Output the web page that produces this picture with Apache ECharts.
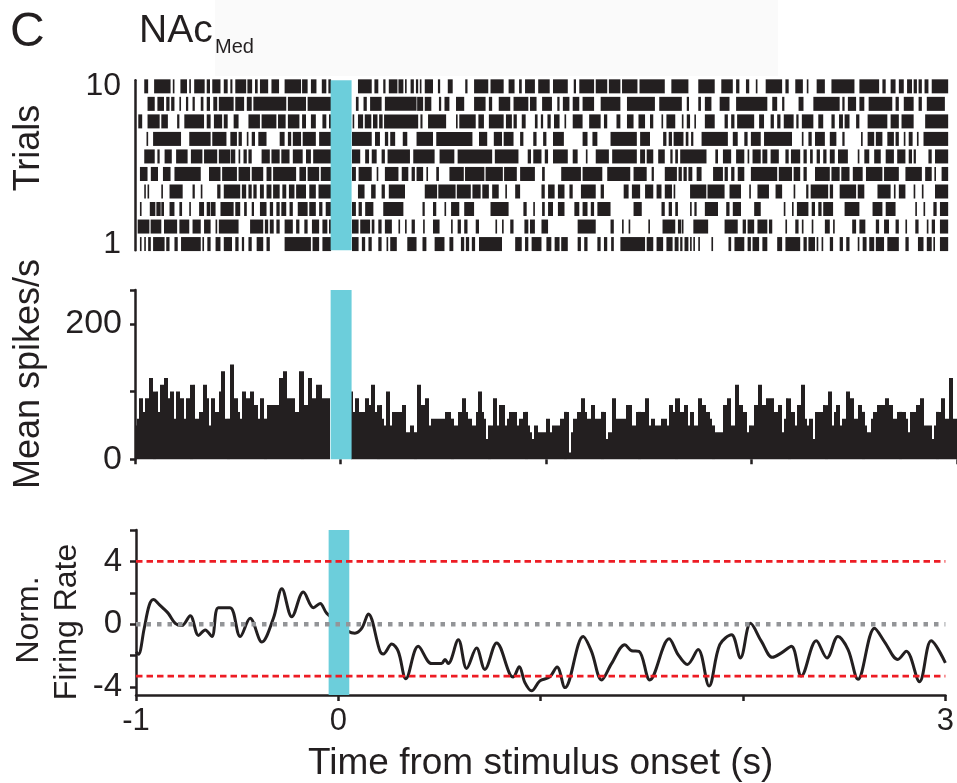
<!DOCTYPE html>
<html>
<head>
<meta charset="utf-8">
<script src="https://cdn.jsdelivr.net/npm/echarts@6/dist/echarts.min.js"></script>
<style>
  html, body { margin: 0; padding: 0; background: #ffffff; }
  #chart { width: 957px; height: 783px; }
</style>
</head>
<body>
<div id="chart"></div>
<script>
// ---- Stimulus (light pulse) window, seconds ----
const stimWindow = [-0.048, 0.054];

// ---- Raster: spike clusters per trial, [start, end] in ms from stimulus onset ----
const trial10 = [[-955,-936],[-907,-827],[-816,-808],[-779,-747],[-736,-728],[-712,-661],[-651,-635],[-624,-584],[-568,-549],[-536,-526],[-512,-459],[-453,-430],[-416,-403],[-392,-352],[-336,-299],[-272,-192],[-187,-160],[-144,-117],[-91,-69],[-59,-46],
  [85,152],[165,184],[208,219],[235,277],[282,306],[314,322],[341,357],[367,378],[386,394],[410,450],[474,485],[522,546],[607,618],[650,719],[730,794],[818,847],[869,882],[898,946],[962,1018],[1034,1106],[1135,1146],[1162,1234],[1242,1298],[1306,1362],[1370,1445],[1455,1578],
  [1610,1693],[1741,1821],[1853,1909],[1925,1941],[1973,1989],[2021,2029],[2069,2149],[2165,2181],[2213,2250],[2269,2277],[2317,2357],[2389,2501],[2525,2621],[2637,2653],[2677,2701],[2717,2741],[2757,2781],[2789,2805],[2813,2829],[2842,2861],[2877,2957]];
const trial9 = [[-939,-904],[-891,-859],[-848,-832],[-824,-808],[-784,-776],[-752,-741],[-720,-709],[-680,-667],[-651,-635],[-619,-600],[-592,-520],[-512,-469],[-456,-432],[-424,-264],[-256,-168],[-160,-46],
  [75,88],[112,128],[144,200],[216,370],[373,402],[410,442],[479,490],[506,530],[562,602],[650,706],[722,738],[770,826],[842,914],[922,954],[981,1029],[1055,1066],[1082,1114],[1130,1162],[1178,1234],[1266,1362],[1394,1530],[1551,1661],
  [1685,1696],[1741,1754],[1773,1805],[1845,1893],[1925,2077],[2101,2125],[2149,2160],[2229,2253],[2301,2429],[2442,2453],[2469,2509],[2525,2549],[2570,2685],[2701,2717],[2741,2789],[2813,2829],[2853,2941]];
const trial8 = [[-984,-965],[-939,-880],[-872,-840],[-795,-784],[-760,-664],[-651,-632],[-616,-576],[-568,-549],[-520,-496],[-448,-392],[-384,-312],[-304,-267],[-256,-200],[-187,-168],[-144,-120],[-88,-69],[-56,-46],
  [59,64],[85,110],[118,150],[158,180],[188,205],[212,378],[389,399],[426,514],[562,570],[578,658],[671,698],[722,794],[805,834],[842,858],[882,901],[946,959],[975,986],[1007,1023],[1039,1066],[1090,1098],[1130,1178],[1210,1266],[1282,1298],[1343,1362],[1394,1426],[1450,1482],[1506,1522],[1562,1570],[1586,1629],
  [1661,1669],[1685,1701],[1722,1725],[1773,1821],[1869,1885],[1901,1917],[1930,2013],[2037,2061],[2093,2109],[2125,2141],[2157,2205],[2218,2229],[2245,2301],[2325,2349],[2389,2405],[2426,2445],[2453,2477],[2509,2525],[2565,2661],[2677,2717],[2730,2789],[2845,2957]];
const trial7 = [[-944,-936],[-912,-776],[-736,-632],[-624,-555],[-536,-504],[-496,-480],[-456,-448],[-432,-416],[-400,-360],[-296,-272],[-256,-240],[-232,-192],[-184,-120],[-104,-46],
  [56,152],[168,192],[216,232],[242,266],[303,325],[370,450],[466,642],[674,714],[746,786],[794,842],[874,890],[938,954],[986,1002],[1034,1087],[1178,1202],[1226,1250],[1314,1442],[1458,1506],[1570,1586],
  [1597,1613],[1621,1669],[1680,1693],[1706,1717],[1757,1885],[1909,1933],[1965,1981],[1997,2045],[2061,2197],[2245,2253],[2277,2293],[2309,2357],[2381,2413],[2442,2453],[2533,2541],[2565,2597],[2605,2637],[2661,2693],[2701,2717],[2741,2749],[2765,2784],[2805,2813],[2837,2957]];
const trial6 = [[-955,-904],[-891,-880],[-856,-821],[-800,-744],[-728,-672],[-664,-600],[-592,-536],[-533,-512],[-496,-488],[-472,-456],[-448,-432],[-384,-344],[-336,-296],[-288,-248],[-232,-184],[-168,-144],[-133,-46],
  [56,96],[120,139],[152,176],[200,216],[229,338],[354,458],[482,554],[570,738],[751,866],[911,927],[938,978],[994,1010],[1034,1106],[1130,1154],[1194,1202],[1242,1306],[1322,1442],[1458,1482],[1490,1522],[1546,1578],
  [1605,1616],[1629,1642],[1653,1781],[1824,1837],[1861,1901],[1925,1965],[1981,1989],[2005,2045],[2053,2077],[2093,2133],[2165,2181],[2192,2237],[2253,2269],[2285,2298],[2317,2333],[2349,2365],[2381,2405],[2421,2469],[2517,2525],[2549,2573],[2597,2629],[2653,2693],[2709,2749],[2765,2781],[2789,2800],[2861,2877],[2893,2957]];
const trial5 = [[-976,-939],[-923,-888],[-864,-827],[-808,-680],[-640,-584],[-576,-504],[-496,-440],[-432,-376],[-360,-336],[-328,-216],[-200,-168],[-160,-104],[-96,-46],
  [56,75],[88,152],[176,184],[216,282],[298,330],[346,362],[370,402],[418,426],[466,479],[530,600],[606,700],[706,790],[796,858],[874,946],[981,994],[1074,1170],[1178,1274],[1298,1410],[1426,1490],[1514,1525],[1578,1637],
  [1645,1661],[1669,1685],[1693,1712],[1733,1757],[1813,1861],[1869,1885],[1901,1917],[1933,1965],[1997,2125],[2133,2197],[2205,2237],[2253,2269],[2309,2381],[2389,2429],[2437,2477],[2493,2541],[2557,2637],[2645,2717],[2749,2829],[2845,2877],[2890,2896],[2925,2957]];
const trial4 = [[-955,-949],[-939,-933],[-872,-864],[-832,-768],[-720,-709],[-680,-672],[-600,-584],[-568,-488],[-480,-459],[-448,-432],[-424,-408],[-392,-373],[-360,-336],[-328,-296],[-283,-264],[-251,-224],[-216,-168],[-152,-120],[-107,-46],
  [85,117],[149,171],[200,216],[235,314],[410,470],[476,560],[566,634],[642,682],[690,722],[738,770],[802,810],[850,874],[978,994],[1010,1042],[1058,1090],[1114,1130],[1170,1242],[1266,1282],[1378,1402],[1418,1458],[1482,1522],[1538,1562],[1578,1613],
  [1621,1629],[1701,1780],[1786,1869],[1893,1949],[1989,1997],[2029,2085],[2117,2149],[2205,2213],[2266,2277],[2288,2373],[2381,2397],[2429,2509],[2517,2549],[2613,2677],[2693,2701],[2717,2749],[2789,2797],[2829,2837],[2893,2957]];
const trial3 = [[-976,-968],[-928,-901],[-896,-875],[-872,-859],[-832,-808],[-784,-771],[-736,-728],[-688,-664],[-651,-635],[-632,-608],[-584,-520],[-512,-488],[-469,-456],[-432,-421],[-392,-360],[-344,-328],[-312,-296],[-288,-264],[-248,-232],[-208,-160],[-152,-120],[-104,-88],[-72,-46],
  [56,75],[88,104],[120,160],[208,306],[399,410],[450,466],[506,514],[538,578],[602,650],[730,818],[890,906],[938,946],[981,994],[1010,1034],[1058,1090],[1138,1162],[1178,1202],[1218,1234],[1250,1314],[1426,1466],[1562,1578],
  [1597,1613],[1629,1642],[1701,1709],[1722,1733],[1773,1837],[1877,1893],[1909,1949],[2013,2045],[2157,2165],[2197,2205],[2221,2277],[2293,2309],[2325,2341],[2349,2397],[2453,2525],[2589,2637],[2653,2701],[2797,2805],[2837,2845],[2885,2901],[2917,2957]];
const trial2 = [[-987,-930],[-924,-872],[-859,-795],[-784,-736],[-720,-680],[-664,-632],[-608,-600],[-592,-496],[-440,-376],[-368,-352],[-344,-325],[-312,-296],[-272,-232],[-216,-200],[-176,-160],[-139,-104],[-88,-64],[-56,-46],
  [56,88],[96,144],[152,165],[184,200],[216,250],[282,290],[314,322],[346,362],[402,410],[450,482],[538,546],[570,586],[602,618],[658,674],[754,762],[786,794],[826,842],[895,914],[922,946],[978,1010],[1154,1242],[1314,1330],[1370,1378],[1402,1410],[1498,1506],[1567,1629],
  [1642,1658],[1661,1669],[1717,1789],[1869,1933],[1957,1973],[1981,2013],[2029,2077],[2085,2101],[2165,2173],[2213,2229],[2245,2253],[2293,2301],[2357,2381],[2397,2405],[2490,2509],[2525,2554],[2605,2621],[2645,2669],[2701,2717],[2749,2757],[2797,2813],[2853,2861],[2877,2893],[2917,2957]];
const trial1 = [[-976,-968],[-955,-949],[-936,-923],[-912,-856],[-848,-832],[-808,-792],[-776,-680],[-672,-664],[-648,-632],[-608,-584],[-568,-528],[-512,-496],[-480,-469],[-448,-432],[-408,-376],[-360,-344],[-272,-144],[-136,-104],[-88,-46],
  [56,88],[104,120],[136,152],[184,200],[224,232],[242,274],[325,370],[399,418],[458,506],[530,549],[586,602],[610,626],[639,655],[674,786],[850,882],[898,914],[930,978],[1002,1026],[1042,1066],[1074,1106],[1154,1170],[1186,1202],[1250,1266],[1282,1298],[1317,1330],[1362,1482],[1490,1522],[1538,1570],[1586,1616],
  [1626,1645],[1653,1664],[1674,1693],[1701,1709],[1717,1722],[1741,1749],[1805,1813],[1888,1901],[1917,1965],[1981,1997],[2005,2037],[2053,2077],[2125,2149],[2165,2237],[2253,2269],[2277,2309],[2317,2325],[2341,2349],[2381,2397],[2429,2445],[2461,2477],[2517,2525],[2541,2560],[2573,2597],[2605,2645],[2661,2717],[2749,2765],[2810,2837],[2853,2877],[2885,2893],[2917,2957]];
const trials = [trial1, trial2, trial3, trial4, trial5, trial6, trial7, trial8, trial9, trial10];
const trialRange = [0.65, 10.35];
const trialTickLabels = [1, 10];

// ---- Peri-stimulus time histogram: 10 ms bins from -1 s, mean spikes/s (null = hidden by stimulus bar) ----
const histStart = -1;
const histBinWidth = 0.01;
const histRate = [
  50,60,90,90,70,90,90,120,120,100,
  100,70,110,110,120,120,90,100,100,60,
  100,100,90,90,60,90,90,110,110,60,
  60,70,70,110,110,90,50,90,90,70,
  70,100,130,130,60,60,140,140,90,90,
  70,60,100,100,90,90,100,100,80,80,
  60,90,90,60,80,80,80,80,80,80,
  120,120,130,130,90,90,90,90,70,70,
  130,130,80,80,120,120,90,90,110,110,
  110,90,90,90,90,null,null,null,null,null,
  null,null,null,null,null,100,70,90,90,70,
  70,70,90,90,80,110,110,70,80,80,
  60,50,100,100,50,70,70,70,70,70,
  80,80,40,40,50,50,40,110,110,80,
  80,90,90,50,60,60,60,60,60,60,
  60,70,70,70,60,50,50,70,70,90,
  90,70,60,60,50,50,70,100,100,70,
  60,30,50,50,90,90,50,80,80,80,
  50,60,70,70,70,70,50,60,60,70,
  70,50,40,30,50,50,40,40,40,40,
  60,60,40,50,50,50,50,60,60,70,
  70,10,40,60,60,70,70,90,90,70,
  60,60,80,80,60,60,60,70,70,30,
  40,40,90,90,60,60,60,60,60,80,
  80,80,50,50,70,70,70,70,90,90,
  50,60,60,50,50,50,60,60,60,50,
  80,80,70,90,90,70,70,80,80,50,
  70,70,50,50,90,90,80,80,70,70,
  60,50,40,40,40,40,80,80,90,90,
  50,50,110,110,80,80,70,70,40,50,
  50,80,80,110,110,80,80,90,90,90,
  90,70,70,80,80,40,60,90,90,70,
  70,50,80,80,110,110,60,50,60,60,
  30,70,70,70,70,80,80,100,100,50,
  70,80,80,50,60,60,100,100,90,90,
  60,60,80,80,70,50,40,40,60,70,
  70,80,80,80,80,90,90,80,80,60,
  60,70,70,70,70,60,40,70,70,70,
  80,80,90,90,50,50,50,50,30,50,
  70,70,90,90,60,60,120,120,60,60
];
const histRange = [0, 250];
const histTickLabels = [0, 200];

// ---- Normalized firing rate (z-score), time in s ----
const normTime = [-1.000,-0.988,-0.960,-0.935,-0.914,-0.885,-0.864,-0.840,-0.806,-0.773,-0.732,-0.691,-0.658,-0.625,-0.593,-0.535,-0.485,-0.436,-0.378,-0.321,-0.279,-0.230,-0.173,-0.123,-0.090,-0.057,
  0.051,0.082,0.116,0.148,0.206,0.222,0.264,0.296,0.334,0.395,0.461,0.510,0.527,0.543,0.593,0.634,0.683,0.724,0.782,0.848,0.864,0.894,0.922,0.955,0.996,
  1.045,1.081,1.120,1.210,1.251,1.301,1.350,1.416,1.449,1.486,1.539,1.635,1.679,1.725,1.778,1.832,1.885,1.943,1.987,
  2.037,2.091,2.145,2.190,2.239,2.288,2.362,2.415,2.469,2.519,2.568,2.650,2.700,2.765,2.807,2.872,2.930,3.000];
const normValue = [-1.75,-1.90,-0.30,1.20,1.57,1.25,1.00,0.69,0.06,-0.08,0.55,-0.71,-0.36,-0.78,1.05,1.05,-0.78,0.38,-1.13,0.38,2.26,0.48,2.05,1.05,1.32,0.69,
  -0.46,-0.57,-0.25,0.65,-1.72,-1.89,-1.26,-1.72,-3.46,-1.40,-2.50,-2.50,-2.24,-2.50,-0.99,-2.81,-1.51,-2.87,-1.19,-3.19,-3.35,-2.70,-3.71,-4.23,-3.60,
  -3.35,-2.72,-4.03,-0.78,-1.72,-3.54,-2.50,-1.30,-1.68,-1.72,-3.54,-0.92,-1.93,-2.56,-1.61,-3.92,-1.30,-0.67,-2.14,
  0.06,-1.09,-2.10,-1.82,-1.40,-3.29,-1.05,-2.14,-0.78,-1.61,-3.50,-0.25,-1.13,-2.24,-1.72,-3.65,-1.05,-2.45];
const normRange = [-4.5, 6];
const upperThreshold = 4;
const lowerThreshold = -3.3;
const baselineLevel = 0;
const normTickLabels = [-4, 0, 4];
const normTicks = [-4, -2, 0, 2, 4, 6];
const timeRange = [-1, 3];
const timeTickLabels = [-1, 0, 3];
const timeTicks = [-1, 0, 1, 2, 3];

// ---- Build series data ----
const rasterData = [];
trials.forEach((runs, k) => runs.forEach(r => rasterData.push([r[0] / 1000, r[1] / 1000, k + 1])));
const histData = [];
histRate.forEach((v, i) => {
  if (v !== null) histData.push([histStart + i * histBinWidth, histStart + (i + 1) * histBinWidth, v]);
});
const normData = normTime.map((t, i) => [t, normValue[i]]);

const ink = '#231f20';
const stimColor = '#6ccedb';
const fontFamily = "'Liberation Sans', Arial, Helvetica, sans-serif";

function renderRaster(params, api) {
  const a = api.coord([api.value(0), api.value(2)]);
  const b = api.coord([api.value(1), api.value(2)]);
  const h = api.size([0, 0.8])[1];
  const w = Math.max(b[0] - a[0], 1.6);
  return { type: 'rect', shape: { x: a[0], y: a[1] - h / 2, width: w, height: h }, style: { fill: ink } };
}
function renderHist(params, api) {
  const a = api.coord([api.value(0), api.value(2)]);
  const b = api.coord([api.value(1), 0]);
  // snap bin edges to whole pixels so adjacent bars join without seams
  const x0 = Math.round(a[0]);
  const x1 = Math.round(b[0]);
  return { type: 'rect', shape: { x: x0, y: a[1], width: x1 - x0, height: b[1] - a[1] }, style: { fill: ink } };
}
// stimulus bar spanning the full value range of its panel: [t0, t1, yLow, yHigh]
function renderStim(params, api) {
  const p0 = api.coord([api.value(0), api.value(2)]);
  const p1 = api.coord([api.value(1), api.value(3)]);
  return {
    type: 'polygon',
    shape: { points: [[p0[0], p0[1]], [p1[0], p0[1]], [p1[0], p1[1]], [p0[0], p1[1]]] },
    style: { fill: stimColor }
  };
}

const tickLabel = (size) => ({ color: ink, fontSize: size, fontFamily: fontFamily });
const axisLineStyle = { color: ink, width: 2.5 };

const option = {
  animation: false,
  backgroundColor: '#ffffff',
  grid: [
    { left: 135, right: -4.8, top: 80.2, height: 170 },
    { left: 135, right: -4.8, top: 290, height: 169.3 },
    { left: 136, right: 11, top: 530, height: 167.3 }
  ],
  xAxis: [
    { gridIndex: 0, type: 'value', min: timeRange[0], max: timeRange[1], show: false },
    { gridIndex: 1, type: 'value', min: timeRange[0], max: timeRange[1],
      axisLine: { show: false, onZero: false },
      axisTick: { show: true, customValues: timeTicks, length: 5, lineStyle: axisLineStyle },
      axisLabel: { show: false }, splitLine: { show: false } },
    { gridIndex: 2, type: 'value', min: timeRange[0], max: timeRange[1],
      axisLine: { show: true, onZero: false, lineStyle: axisLineStyle },
      axisTick: { show: true, customValues: timeTicks, length: 6, lineStyle: axisLineStyle },
      axisLabel: Object.assign({ customValues: timeTickLabels, margin: 11 }, tickLabel(31)),
      splitLine: { show: false },
      name: 'Time from stimulus onset (s)', nameLocation: 'middle', nameGap: 50,
      nameTextStyle: { color: ink, fontSize: 37, fontFamily: fontFamily } }
  ],
  yAxis: [
    { gridIndex: 0, type: 'value', min: trialRange[0], max: trialRange[1],
      axisLine: { show: true, onZero: false, lineStyle: axisLineStyle },
      axisTick: { show: false },
      axisLabel: Object.assign({ customValues: trialTickLabels, margin: 14 }, tickLabel(32)),
      splitLine: { show: false } },
    { gridIndex: 1, type: 'value', min: histRange[0], max: histRange[1], interval: 100,
      axisLine: { show: true, onZero: false, lineStyle: axisLineStyle },
      axisTick: { show: true, length: 5, lineStyle: axisLineStyle },
      axisLabel: Object.assign({ customValues: histTickLabels, margin: 13 }, tickLabel(34)),
      splitLine: { show: false } },
    { gridIndex: 2, type: 'value', min: normRange[0], max: normRange[1],
      axisLine: { show: true, onZero: false, lineStyle: axisLineStyle },
      axisTick: { show: true, customValues: normTicks, length: 6, lineStyle: axisLineStyle },
      axisLabel: Object.assign({ customValues: normTickLabels, margin: 14 }, tickLabel(33)),
      splitLine: { show: false } }
  ],
  series: [
    { type: 'custom', xAxisIndex: 0, yAxisIndex: 0, renderItem: renderRaster, data: rasterData, z: 2, silent: true },
    { type: 'custom', xAxisIndex: 0, yAxisIndex: 0, renderItem: renderStim,
      data: [[stimWindow[0], stimWindow[1], trialRange[0], trialRange[1]]], z: 5, silent: true },
    { type: 'custom', xAxisIndex: 1, yAxisIndex: 1, renderItem: renderHist, data: histData, z: 2, silent: true },
    { type: 'custom', xAxisIndex: 1, yAxisIndex: 1, renderItem: renderStim,
      data: [[stimWindow[0], stimWindow[1], histRange[0], histRange[1]]], z: 5, silent: true },
    { type: 'line', xAxisIndex: 2, yAxisIndex: 2, data: normData, smooth: 0.35, showSymbol: false,
      lineStyle: { color: ink, width: 3 }, z: 2, silent: true },
    { type: 'custom', xAxisIndex: 2, yAxisIndex: 2, renderItem: renderStim,
      data: [[stimWindow[0], stimWindow[1], normRange[0], normRange[1]]], z: 5, silent: true },
    { type: 'line', xAxisIndex: 2, yAxisIndex: 2, data: [[timeRange[0], baselineLevel], [timeRange[1], baselineLevel]], showSymbol: false,
      lineStyle: { color: '#939598', width: 4.5, type: [4.5, 6], cap: 'butt' }, z: 6, silent: true },
    { type: 'line', xAxisIndex: 2, yAxisIndex: 2, data: [[timeRange[0], upperThreshold], [timeRange[1], upperThreshold]], showSymbol: false,
      lineStyle: { color: '#ed1c24', width: 2.8, type: [6.5, 4], cap: 'butt' }, z: 6, silent: true },
    { type: 'line', xAxisIndex: 2, yAxisIndex: 2, data: [[timeRange[0], lowerThreshold], [timeRange[1], lowerThreshold]], showSymbol: false,
      lineStyle: { color: '#ed1c24', width: 2.8, type: [6.5, 4], cap: 'butt' }, z: 6, silent: true }
  ],
  graphic: [
    { type: 'rect', z: -10, shape: { x: 215, y: 0, width: 563, height: 76 }, style: { fill: '#fafafa' }, silent: true },
    { type: 'text', x: 10, y: 33, style: { text: 'C', fill: ink, font: '48px ' + fontFamily, verticalAlign: 'middle' } },
    { type: 'text', x: 139, y: 31, style: { text: 'NAc', fill: ink, font: '39px ' + fontFamily, verticalAlign: 'middle' } },
    { type: 'text', x: 215, y: 47.5, style: { text: 'Med', fill: ink, font: '20px ' + fontFamily, verticalAlign: 'middle' } },
    { type: 'text', x: 29, y: 148, rotation: Math.PI / 2, style: { text: 'Trials', fill: ink, font: '36px ' + fontFamily, align: 'center', verticalAlign: 'middle' } },
    { type: 'text', x: 29, y: 374, rotation: Math.PI / 2, style: { text: 'Mean spikes/s', fill: ink, font: '36px ' + fontFamily, align: 'center', verticalAlign: 'middle' } },
    { type: 'text', x: 29, y: 620, rotation: Math.PI / 2, style: { text: 'Norm.', fill: ink, font: '32px ' + fontFamily, align: 'center', verticalAlign: 'middle' } },
    { type: 'text', x: 67, y: 622, rotation: Math.PI / 2, style: { text: 'Firing Rate', fill: ink, font: '32px ' + fontFamily, align: 'center', verticalAlign: 'middle' } }
  ]
};

const chart = echarts.init(document.getElementById('chart'), null, { renderer: 'canvas' });
chart.setOption(option);
</script>
</body>
</html>
